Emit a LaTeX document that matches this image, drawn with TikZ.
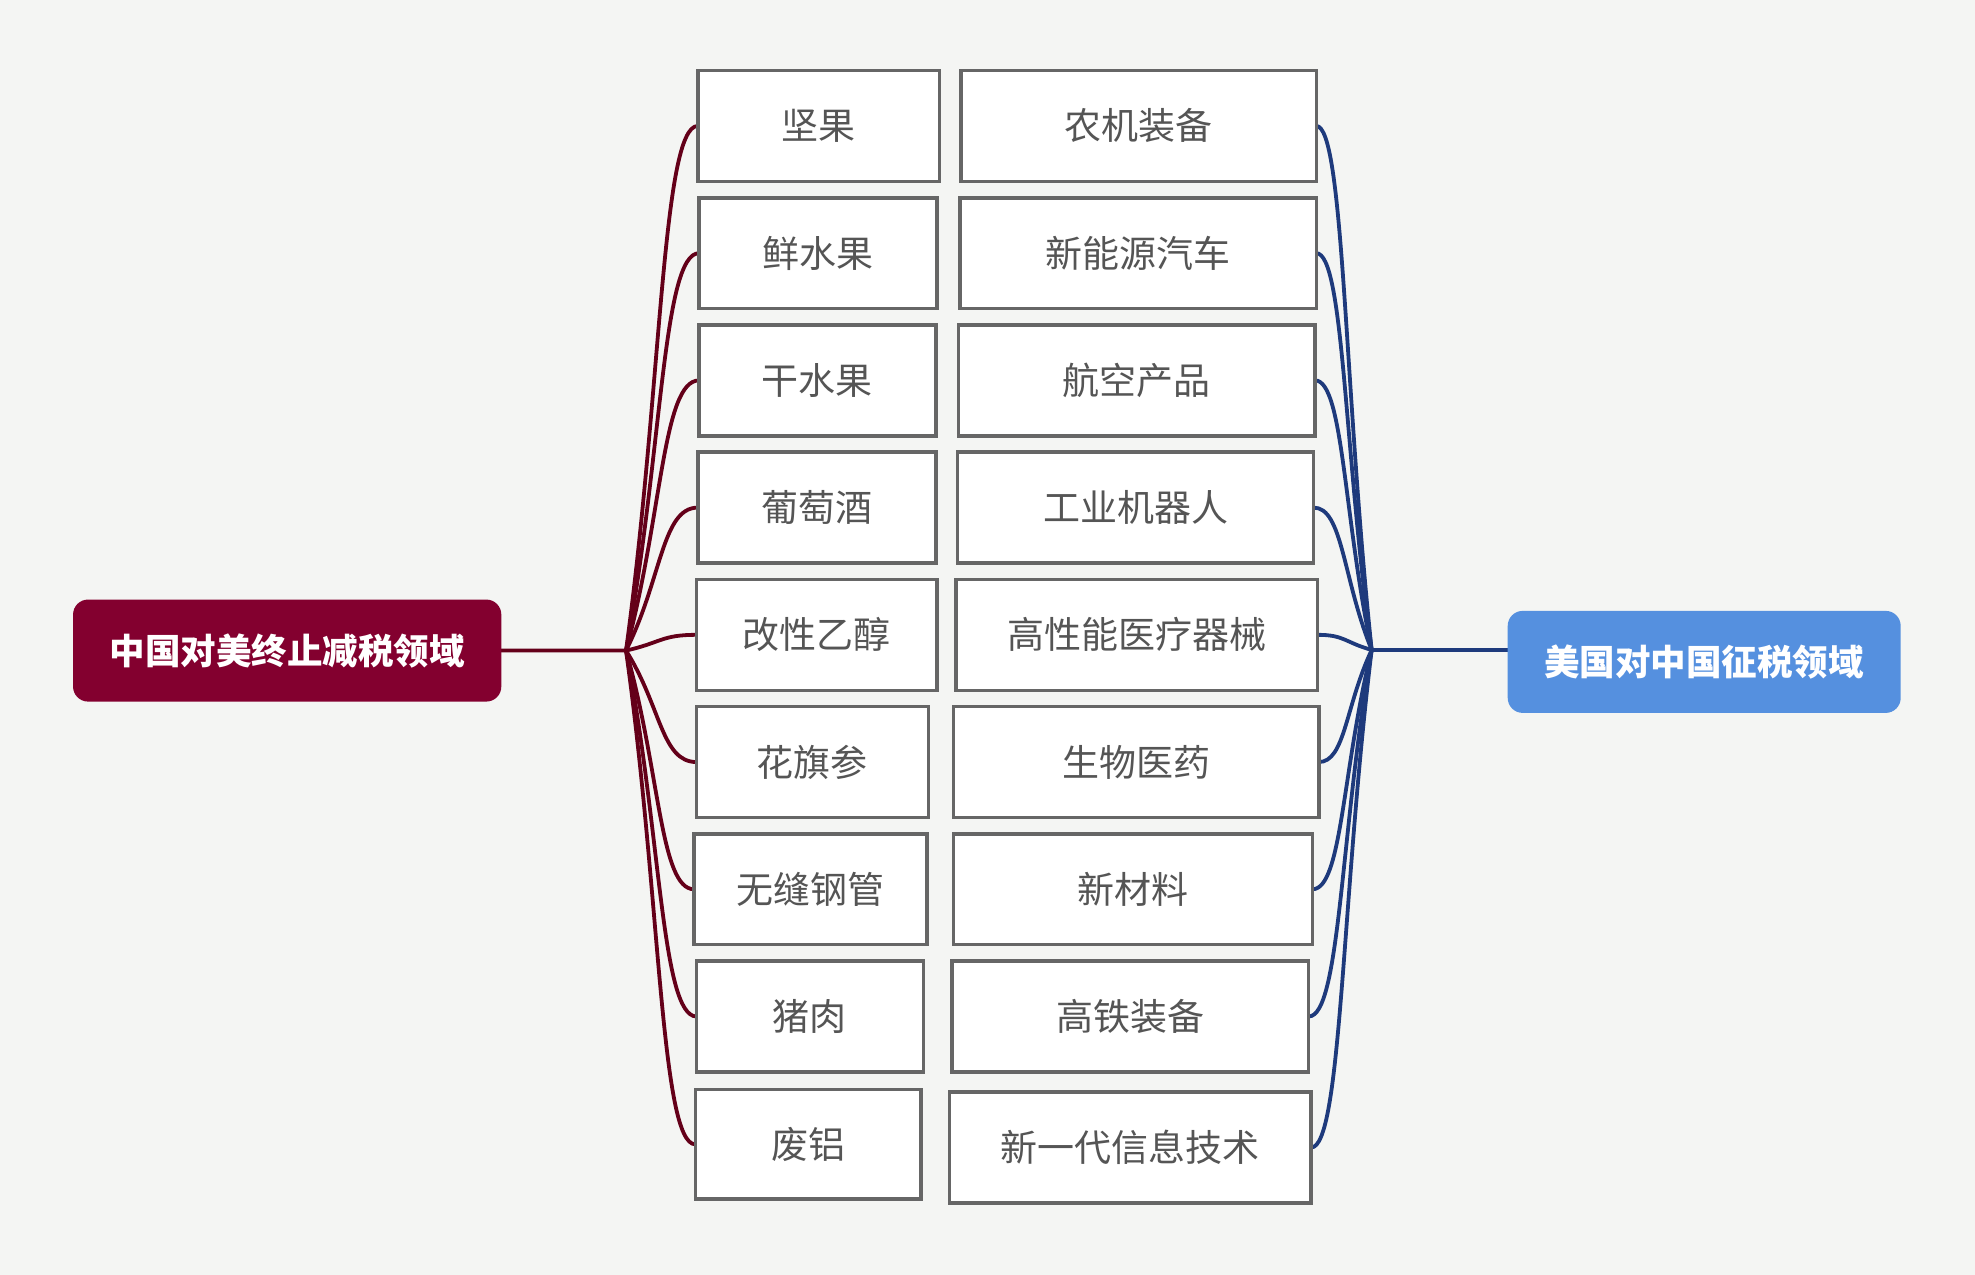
\documentclass[tikz,border=0pt]{standalone}
\usepackage{fontspec}
\setmainfont{Noto Sans CJK SC}
\usetikzlibrary{fit,calc,backgrounds}
\definecolor{bgcol}{HTML}{F4F5F3}
\definecolor{lrootcol}{HTML}{83002F}
\definecolor{rrootcol}{HTML}{5590DF}
\definecolor{lwirecol}{HTML}{640019}
\definecolor{rwirecol}{HTML}{1E3A7C}
\definecolor{boxline}{HTML}{666666}
\definecolor{boxtext}{HTML}{555555}
\tikzset{
  itembox/.style={draw=boxline, line width=3.5pt, fill=white, inner sep=0pt, outer sep=0pt,
    label={[text=boxtext, font=\fontsize{37}{40}\selectfont]center:#1}},
  rootbox/.style={rounded corners=15pt, inner sep=0pt, outer sep=0pt,
    label={[text=white, font=\fontsize{35.5}{40}\selectfont\bfseries]center:#1}},
  lwire/.style={draw=lwirecol, line width=3.8pt, line cap=round},
  rwire/.style={draw=rwirecol, line width=3.8pt, line cap=round}
}
\begin{document}
\begin{tikzpicture}[x=1.2596pt, y=-1.2596pt]
\useasboundingbox (0,0) rectangle (1568,1012);

% roots
\node[rootbox=中国对美终止减税领域, fill=lrootcol, fit={(58,476) (398,557)}] (lroot) {};
\node[rootbox=美国对中国征税领域, fill=rrootcol, fit={(1197,485) (1509,566)}] (rroot) {};

% junction points of the two fans
\coordinate (lj) at (497,516.5);
\coordinate (rj) at (1089,516);

% left column
\node[itembox=坚果, fit={(554,56) (746,144)}]  (L1) {};
\node[itembox=鲜水果, fit={(555,157) (744,245)}] (L2) {};
\node[itembox=干水果, fit={(555,258) (743,346)}] (L3) {};
\node[itembox=葡萄酒, fit={(554,359) (743,447)}] (L4) {};
\node[itembox=改性乙醇, fit={(553,460) (744,548)}] (L5) {};
\node[itembox=花旗参, fit={(553,561) (737,649)}] (L6) {};
\node[itembox=无缝钢管, fit={(551,662) (736,750)}] (L7) {};
\node[itembox=猪肉, fit={(553,763) (733,851)}] (L8) {};
\node[itembox=废铝, fit={(552,865) (731,952)}] (L9) {};

% right column
\node[itembox=农机装备, fit={(763,56) (1045,144)}]  (R1) {};
\node[itembox=新能源汽车, fit={(762,157) (1045,245)}] (R2) {};
\node[itembox=航空产品, fit={(761,258) (1044,346)}] (R3) {};
\node[itembox=工业机器人, fit={(760,359) (1043,447)}] (R4) {};
\node[itembox=高性能医疗器械, fit={(759,460) (1046,548)}] (R5) {};
\node[itembox=生物医药, fit={(757,561) (1047,649)}] (R6) {};
\node[itembox=新材料, fit={(757,662) (1042,750)}] (R7) {};
\node[itembox=高铁装备, fit={(756,763) (1039,851)}] (R8) {};
\node[itembox=新一代信息技术, fit={(754,867) (1041,955)}] (R9) {};

\begin{scope}[on background layer]
  \fill[bgcol] (0,0) rectangle (1568,1012);
  \draw[lwire] (lroot.east) -- (lj);
  \draw[rwire] (rj) -- (rroot.west |- rj);
  \foreach \i in {1,...,9} {
    \draw[lwire] (lj) .. controls ($(lj)!0.5!(L\i.west)$) and ($(L\i.west)!0.5!(lj |- L\i.west)$) .. (L\i.west);
    \draw[rwire] (rj) .. controls ($(rj)!0.5!(R\i.east)$) and ($(R\i.east)!0.5!(rj |- R\i.east)$) .. (R\i.east);
  }
\end{scope}
\end{tikzpicture}
\end{document}
